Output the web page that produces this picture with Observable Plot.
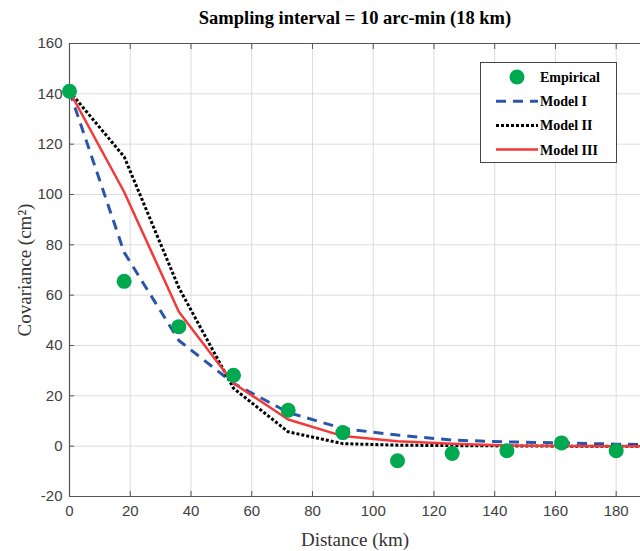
<!DOCTYPE html>
<html>
<head>
<meta charset="utf-8">
<script src="https://cdn.jsdelivr.net/npm/d3@7"></script>
<script src="https://cdn.jsdelivr.net/npm/@observablehq/plot@0.6"></script>
<style>
  html, body { margin: 0; padding: 0; background: #fff; }
  #wrap { position: relative; width: 640px; height: 551px; overflow: hidden; }
  #legend { position: absolute; left: 0; top: 0; }
</style>
</head>
<body>
<div id="wrap"></div>
<script>
const title = "Sampling interval = 10 arc-min (18 km)";
const xLabel = "Distance (km)";
const yLabel = "Covariance (cm²)";
const distance = [0, 18, 36, 54, 72, 90, 108, 126, 144, 162, 180, 198];
const empirical = [141, 65.5, 47.5, 28.2, 14.3, 5.4, -5.8, -2.9, -1.8, 1.3, -1.8];
const modelI = [141, 77, 42, 25, 13.4, 7, 4.4, 2.4, 1.7, 1.3, 0.8, 0.5];
const modelII = [141, 115, 63, 23, 5.7, 1, 0.4, 0.2, 0.1, 0, 0, 0];
const modelIII = [141, 101, 53.4, 25, 10.6, 4, 2, 1, 0.3, 0.1, 0, 0];
const xTicks = [0, 20, 40, 60, 80, 100, 120, 140, 160, 180];
const yTicks = [-20, 0, 20, 40, 60, 80, 100, 120, 140, 160];
const seriesNames = ["Empirical", "Model I", "Model II", "Model III"];

const empData = empirical.map((v, i) => ({x: distance[i], y: v}));
const mk = arr => arr.map((v, i) => ({x: distance[i], y: v}));

const green = "#00a84f", blue = "#2a55a8", black = "#000", red = "#f23a3a";
const tickColor = "#404040";
const serif = "Liberation Serif, Times New Roman, serif";

const chart = Plot.plot({
  width: 640, height: 551,
  marginLeft: 69, marginRight: 0, marginTop: 43, marginBottom: 55,
  style: {fontFamily: "Liberation Sans, Arial, sans-serif", fontSize: "15px", color: tickColor, background: "#fff"},
  x: {domain: [0, 188], ticks: xTicks, label: null},
  y: {domain: [-20, 160], ticks: yTicks, label: null},
  marks: [
    Plot.gridX(xTicks, {stroke: "#dcdcdc", strokeOpacity: 1}),
    Plot.gridY(yTicks, {stroke: "#dcdcdc", strokeOpacity: 1}),
    Plot.ruleX([0], {stroke: "#555", strokeWidth: 1.2}),
    Plot.ruleY([-20], {stroke: "#555", strokeWidth: 1.2}),
    Plot.ruleY([160], {stroke: "#555", strokeWidth: 1.2}),
    Plot.axisX(xTicks, {anchor: "bottom", tickSize: -5, tickPadding: 14, stroke: "#555", fill: tickColor, fontSize: 15, label: null, tickFormat: d => String(d)}),
    Plot.axisX(xTicks, {anchor: "top", tickSize: -5, tickFormat: () => "", stroke: "#555", label: null}),
    Plot.axisY(yTicks, {anchor: "left", tickSize: -5, tickPadding: 12, stroke: "#555", fill: tickColor, fontSize: 15, label: null, tickFormat: d => String(d)}),
    Plot.line(mk(modelI), {x: "x", y: "y", stroke: blue, strokeWidth: 3, strokeDasharray: "10,7", strokeLinecap: "butt", clip: true}),
    Plot.line(mk(modelII), {x: "x", y: "y", stroke: black, strokeWidth: 3, strokeDasharray: "3,2", strokeLinecap: "butt", clip: true}),
    Plot.line(mk(modelIII), {x: "x", y: "y", stroke: red, strokeWidth: 2.5, clip: true}),
    Plot.dot(empData, {x: "x", y: "y", r: 7.5, fill: green, stroke: "none"}),
    Plot.text([title], {frameAnchor: "top", lineAnchor: "middle", dy: -25, fontFamily: serif, fontWeight: "bold", fontSize: 18.5, fill: "#000"}),
    Plot.text([xLabel], {frameAnchor: "bottom", lineAnchor: "middle", dy: 43, fontFamily: serif, fontSize: 19, fill: "#333"}),
    Plot.text([yLabel], {frameAnchor: "left", textAnchor: "middle", lineAnchor: "middle", dx: -45, rotate: -90, fontFamily: serif, fontSize: 19, fill: "#333"})
  ]
});

const wrap = document.getElementById("wrap");
wrap.appendChild(chart);

// Legend overlay
const ns = "http://www.w3.org/2000/svg";
const leg = document.createElementNS(ns, "svg");
leg.setAttribute("id", "legend");
leg.setAttribute("width", 640);
leg.setAttribute("height", 551);
const L = {x: 480, y: 62, w: 136, h: 100};
const box = document.createElementNS(ns, "rect");
box.setAttribute("x", L.x + 0.5); box.setAttribute("y", L.y + 0.5);
box.setAttribute("width", L.w); box.setAttribute("height", L.h);
box.setAttribute("fill", "#fff"); box.setAttribute("stroke", "#444"); box.setAttribute("stroke-width", 1);
leg.appendChild(box);
const rows = [
  {type: "dot", color: green},
  {type: "line", color: blue, dash: "10,7", w: 3},
  {type: "line", color: black, dash: "3,2", w: 3},
  {type: "line", color: red, dash: null, w: 2.5}
];
rows.forEach((r, i) => {
  const cy = 77 + i * 24.2;
  if (r.type === "dot") {
    const c = document.createElementNS(ns, "circle");
    c.setAttribute("cx", 517); c.setAttribute("cy", cy); c.setAttribute("r", 7.5);
    c.setAttribute("fill", r.color);
    leg.appendChild(c);
  } else {
    const l = document.createElementNS(ns, "line");
    l.setAttribute("x1", 496); l.setAttribute("x2", 538);
    l.setAttribute("y1", cy); l.setAttribute("y2", cy);
    l.setAttribute("stroke", r.color); l.setAttribute("stroke-width", r.w);
    if (r.dash) l.setAttribute("stroke-dasharray", r.dash);
    leg.appendChild(l);
  }
  const t = document.createElementNS(ns, "text");
  t.setAttribute("x", 540); t.setAttribute("y", cy);
  t.setAttribute("dy", "0.35em");
  t.setAttribute("font-family", serif);
  t.setAttribute("font-weight", "bold");
  t.setAttribute("font-size", 14);
  t.textContent = seriesNames[i];
  leg.appendChild(t);
});
wrap.appendChild(leg);
</script>
</body>
</html>
